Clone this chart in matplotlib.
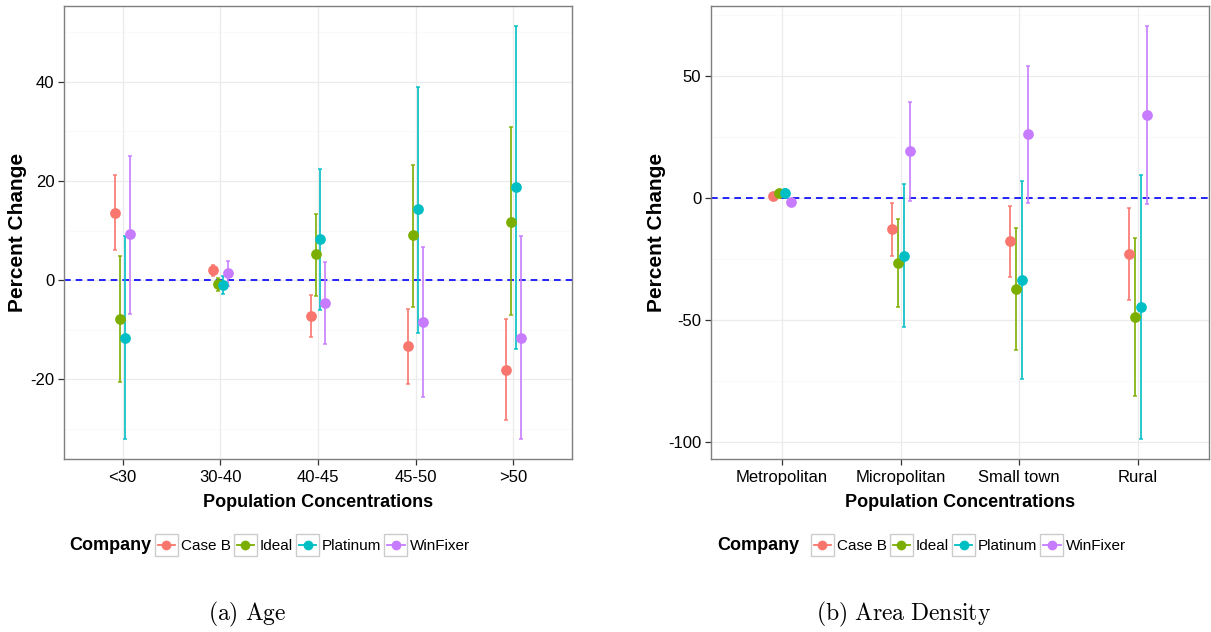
import numpy as np
import matplotlib
matplotlib.use('Agg')
import matplotlib.pyplot as plt
from matplotlib.lines import Line2D
from matplotlib.patches import Rectangle
from matplotlib.legend_handler import HandlerBase

plt.rcParams['font.family'] = ['Liberation Sans', 'DejaVu Sans']
plt.rcParams['mathtext.fontset'] = 'cm'

companies = ['Case B', 'Ideal', 'Platinum', 'WinFixer']
colors = ['#F8766D', '#7CAE00', '#00BFC4', '#C77CFF']

# (a) Age
age_groups = ['<30', '30-40', '40-45', '45-50', '>50']
age_mid = {
    'Case B':   [13.6, 2.0, -7.2, -13.3, -18.1],
    'Ideal':    [-7.8, -0.7, 5.2, 9.0, 11.8],
    'Platinum': [-11.6, -0.9, 8.2, 14.3, 18.7],
    'WinFixer': [9.2, 1.4, -4.6, -8.5, -11.6],
}
age_lo = {
    'Case B':   [6.0, 0.9, -11.4, -21.0, -28.3],
    'Ideal':    [-20.5, -2.2, -3.2, -5.4, -7.1],
    'Platinum': [-32.0, -2.8, -6.0, -10.6, -13.9],
    'WinFixer': [-6.9, -1.1, -12.8, -23.5, -32.0],
}
age_hi = {
    'Case B':   [21.2, 3.0, -3.0, -5.8, -7.9],
    'Ideal':    [4.8, 0.5, 13.4, 23.3, 30.8],
    'Platinum': [8.9, 0.8, 22.4, 39.0, 51.3],
    'WinFixer': [25.1, 3.8, 3.6, 6.6, 8.9],
}

# (b) Area Density
area_groups = ['Metropolitan', 'Micropolitan', 'Small town', 'Rural']
area_mid = {
    'Case B':   [0.8, -12.8, -17.6, -22.8],
    'Ideal':    [1.9, -26.8, -37.3, -48.9],
    'Platinum': [2.2, -23.6, -33.6, -44.5],
    'WinFixer': [-1.4, 19.3, 26.1, 33.9],
}
area_lo = {
    'Case B':   [0.3, -23.8, -32.2, -41.8],
    'Ideal':    [1.3, -44.8, -62.2, -81.1],
    'Platinum': [0.5, -52.7, -74.3, -98.6],
    'WinFixer': [-1.9, -1.2, -2.0, -2.5],
}
area_hi = {
    'Case B':   [1.3, -2.2, -3.1, -4.1],
    'Ideal':    [2.5, -8.7, -12.4, -16.5],
    'Platinum': [3.8, 5.6, 7.2, 9.4],
    'WinFixer': [-0.9, 39.6, 54.1, 70.6],
}


class BoxHandler(HandlerBase):
    # ggplot-style key: grey box with line + point
    def create_artists(self, legend, orig_handle, xdescent, ydescent,
                       width, height, fontsize, trans):
        c = orig_handle.get_color()
        x0, y0 = -xdescent, -ydescent
        rect = Rectangle((x0, y0), width, height, facecolor='white',
                         edgecolor='#cccccc', lw=1.0, transform=trans)
        ym = y0 + height / 2
        line = Line2D([x0 + width * 0.12, x0 + width * 0.88], [ym, ym],
                      color=c, lw=1.3, transform=trans)
        dot = Line2D([x0 + width / 2], [ym], marker='o', markersize=6,
                     color=c, markeredgecolor=c, transform=trans)
        return [rect, line, dot]


def panel(ax, groups, mid, lo, hi, ylim, major, minor, xlab_y, ylab_x):
    x = np.arange(1, len(groups) + 1)
    offsets = [-0.075, -0.025, 0.025, 0.075]
    for yv in minor:
        ax.axhline(yv, color='#fafafa', lw=0.8, zorder=0)
    for yv in major:
        ax.axhline(yv, color='#ebebeb', lw=0.9, zorder=0)
    for xv in x:
        ax.axvline(xv, color='#ebebeb', lw=0.9, zorder=0)
    ax.axhline(0, color='#0000ff', ls=(0, (4, 3)), lw=1.2, zorder=1)
    for comp, col, off in zip(companies, colors, offsets):
        m = np.array(mid[comp])
        l = np.array(lo[comp])
        h = np.array(hi[comp])
        ax.errorbar(x + off, m, yerr=[m - l, h - m], fmt='none', ecolor=col,
                    elinewidth=1.4, capsize=1.2, capthick=1.2, alpha=0.85,
                    zorder=2)
        ax.plot(x + off, m, 'o', color=col, markersize=6.7, zorder=3)
    ax.set_xlim(0.4, len(groups) + 0.6)
    ax.set_ylim(*ylim)
    ax.set_xticks(x)
    ax.set_xticklabels(groups)
    ax.set_yticks(major)
    ax.set_yticklabels([str(v) for v in major])
    ax.tick_params(labelsize=12, length=4, width=0.9, color='#333333',
                   pad=3, labelcolor='black')
    ax.tick_params(axis='x', pad=4)
    for s in ax.spines.values():
        s.set_color('#7f7f7f')
        s.set_linewidth(1.0)
    ax.set_xlabel('Population Concentrations', fontsize=13, fontweight='bold')
    ax.set_ylabel('Percent Change', fontsize=15, fontweight='bold')
    ax.xaxis.set_label_coords(0.5, xlab_y)
    ax.xaxis.label.set_va('center')
    ax.yaxis.set_label_coords(ylab_x, 0.5)
    ax.yaxis.label.set_va('center')


W, H = 1211, 632
fig = plt.figure(figsize=(W / 100, H / 100), dpi=100)
ax1 = fig.add_axes([64 / W, 1 - 459 / H, 508 / W, 453 / H])
ax2 = fig.add_axes([711 / W, 1 - 459 / H, 498 / W, 453 / H])

panel(ax1, age_groups, age_mid, age_lo, age_hi, (-36.1, 55.3),
      [-20, 0, 20, 40], [-30, -10, 10, 30, 50], -0.095, -0.091)
panel(ax2, area_groups, area_mid, area_lo, area_hi, (-107, 78.8),
      [-100, -50, 0, 50], [-75, -25, 25, 75], -0.095, -0.110)

handles = [Line2D([], [], color=c, marker='o') for c in colors]
for comp_x, leg_x in [(69, 155), (717, 811)]:
    fig.text(comp_x / W, 1 - 545 / H, 'Company', fontsize=13,
             fontweight='bold', ha='left', va='center')
    fig.legend(handles, companies, loc='center left',
               bbox_to_anchor=(leg_x / W, 1 - 545 / H), ncol=4, frameon=False,
               fontsize=11, borderpad=0, borderaxespad=0,
               handlelength=1.5, handleheight=1.75, handletextpad=0.2,
               columnspacing=0.2, handler_map={Line2D: BoxHandler()})

fig.text(247 / W, 1 - 614 / H, r'$\mathrm{(a)\ Age}$', fontsize=17,
         ha='center', va='center')
fig.text(904 / W, 1 - 614 / H, r'$\mathrm{(b)\ Area\ Density}$', fontsize=17,
         ha='center', va='center')

fig.savefig('out.png', dpi=100)
